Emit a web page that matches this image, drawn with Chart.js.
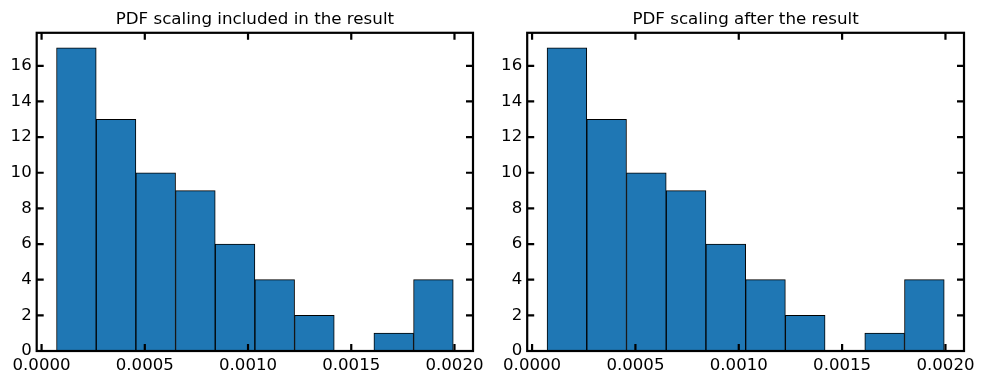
<!DOCTYPE html>
<html>
<head>
<meta charset="utf-8">
<script src="https://cdn.jsdelivr.net/npm/chart.js@4.4.0/dist/chart.umd.min.js"></script>
<style>
  html, body { margin: 0; padding: 0; background: #fff; }
  #wrap { position: relative; width: 983px; height: 384px; overflow: hidden; }
  canvas { position: absolute; top: 0; }
</style>
</head>
<body>
<div id="wrap">
  <canvas id="c1" width="490" height="384" style="left:0px"></canvas>
  <canvas id="c2" width="493" height="384" style="left:490px"></canvas>
</div>
<script>
// ---- data ----
const titles = ["PDF scaling included in the result", "PDF scaling after the result"];
const binEdges = [0.0000725, 0.0002647, 0.0004568, 0.0006490, 0.0008411, 0.0010333,
                  0.0012254, 0.0014176, 0.0016097, 0.0018019, 0.0019940];
const countsLeft  = [17, 13, 10, 9, 6, 4, 2, 0, 1, 4];
const countsRight = [17, 13, 10, 9, 6, 4, 2, 0, 1, 4];
const xTickValues = [0, 0.0005, 0.0010, 0.0015, 0.0020];
const xTickLabels = ["0.0000", "0.0005", "0.0010", "0.0015", "0.0020"];
const yTickValues = [0, 2, 4, 6, 8, 10, 12, 14, 16];
const yTickLabels = ["0", "2", "4", "6", "8", "10", "12", "14", "16"];
const xRange = [-0.0000236, 0.0020897];
const yRange = [0, 17.85];

const FONT = "'DejaVu Sans', 'Liberation Sans', sans-serif";

const framePlugin = {
  id: 'frameTicks',
  afterDatasetsDraw(chart) {
    const ctx = chart.ctx;
    const a = chart.chartArea;
    const xs = chart.scales.x, ys = chart.scales.y;
    const L = 7;
    ctx.save();
    ctx.strokeStyle = '#000';
    ctx.lineWidth = 2.2;
    ctx.lineCap = 'butt';
    ctx.beginPath();
    xs.ticks.forEach(t => {
      const px = xs.getPixelForValue(t.value);
      ctx.moveTo(px, a.bottom); ctx.lineTo(px, a.bottom - L);
      ctx.moveTo(px, a.top); ctx.lineTo(px, a.top + L);
    });
    ys.ticks.forEach(t => {
      const py = ys.getPixelForValue(t.value);
      ctx.moveTo(a.left, py); ctx.lineTo(a.left + L, py);
      ctx.moveTo(a.right, py); ctx.lineTo(a.right - L, py);
    });
    ctx.stroke();
    ctx.strokeRect(a.left, a.top, a.right - a.left, a.bottom - a.top);
    // title centred over the axes
    const t = chart.options.plugins.axTitle.text;
    ctx.fillStyle = '#000';
    ctx.font = "16.7px " + FONT;
    ctx.textAlign = 'center';
    ctx.textBaseline = 'alphabetic';
    ctx.fillText(t, (a.left + a.right) / 2, a.top - 8.5);
    ctx.restore();
  }
};

function makeChart(id, title, counts, leftW, rightPad) {
  const centers = counts.map((_, i) => (binEdges[i] + binEdges[i + 1]) / 2);
  const pts = counts.map((c, i) => ({ x: centers[i], y: c }));
  return new Chart(document.getElementById(id), {
    type: 'bar',
    data: {
      datasets: [{
        data: pts,
        backgroundColor: '#1f77b4',
        borderColor: '#000',
        borderWidth: 1,
        borderSkipped: false,
        barPercentage: 1.0,
        categoryPercentage: 1.0
      }]
    },
    options: {
      responsive: false,
      animation: false,
      devicePixelRatio: 1,
      layout: { padding: { left: 0, right: rightPad, top: 32.8, bottom: 0 } },
      plugins: {
        legend: { display: false },
        tooltip: { enabled: false },
        title: { display: false },
        axTitle: { text: title }
      },
      scales: {
        x: {
          type: 'linear',
          min: xRange[0], max: xRange[1],
          offset: false,
          grid: { display: false, drawTicks: false },
          border: { display: false },
          afterBuildTicks: s => { s.ticks = xTickValues.map(v => ({ value: v })); },
          afterFit: s => { s.height = 33; },
          ticks: {
            padding: 5,
            color: '#000',
            maxRotation: 0,
            autoSkip: false,
            font: { family: FONT, size: 16.6 },
            callback: (v, i) => xTickLabels[i]
          }
        },
        y: {
          type: 'linear',
          min: yRange[0], max: yRange[1],
          grid: { display: false, drawTicks: false },
          border: { display: false },
          afterBuildTicks: s => { s.ticks = yTickValues.map(v => ({ value: v })); },
          afterFit: s => { s.width = leftW; },
          ticks: {
            padding: 5,
            color: '#000',
            autoSkip: false,
            font: { family: FONT, size: 16.6 },
            callback: (v, i) => yTickLabels[i]
          }
        }
      }
    },
    plugins: [framePlugin]
  });
}

makeChart('c1', titles[0], countsLeft, 36.7, 17);
makeChart('c2', titles[1], countsRight, 37.2, 19);
</script>
</body>
</html>
